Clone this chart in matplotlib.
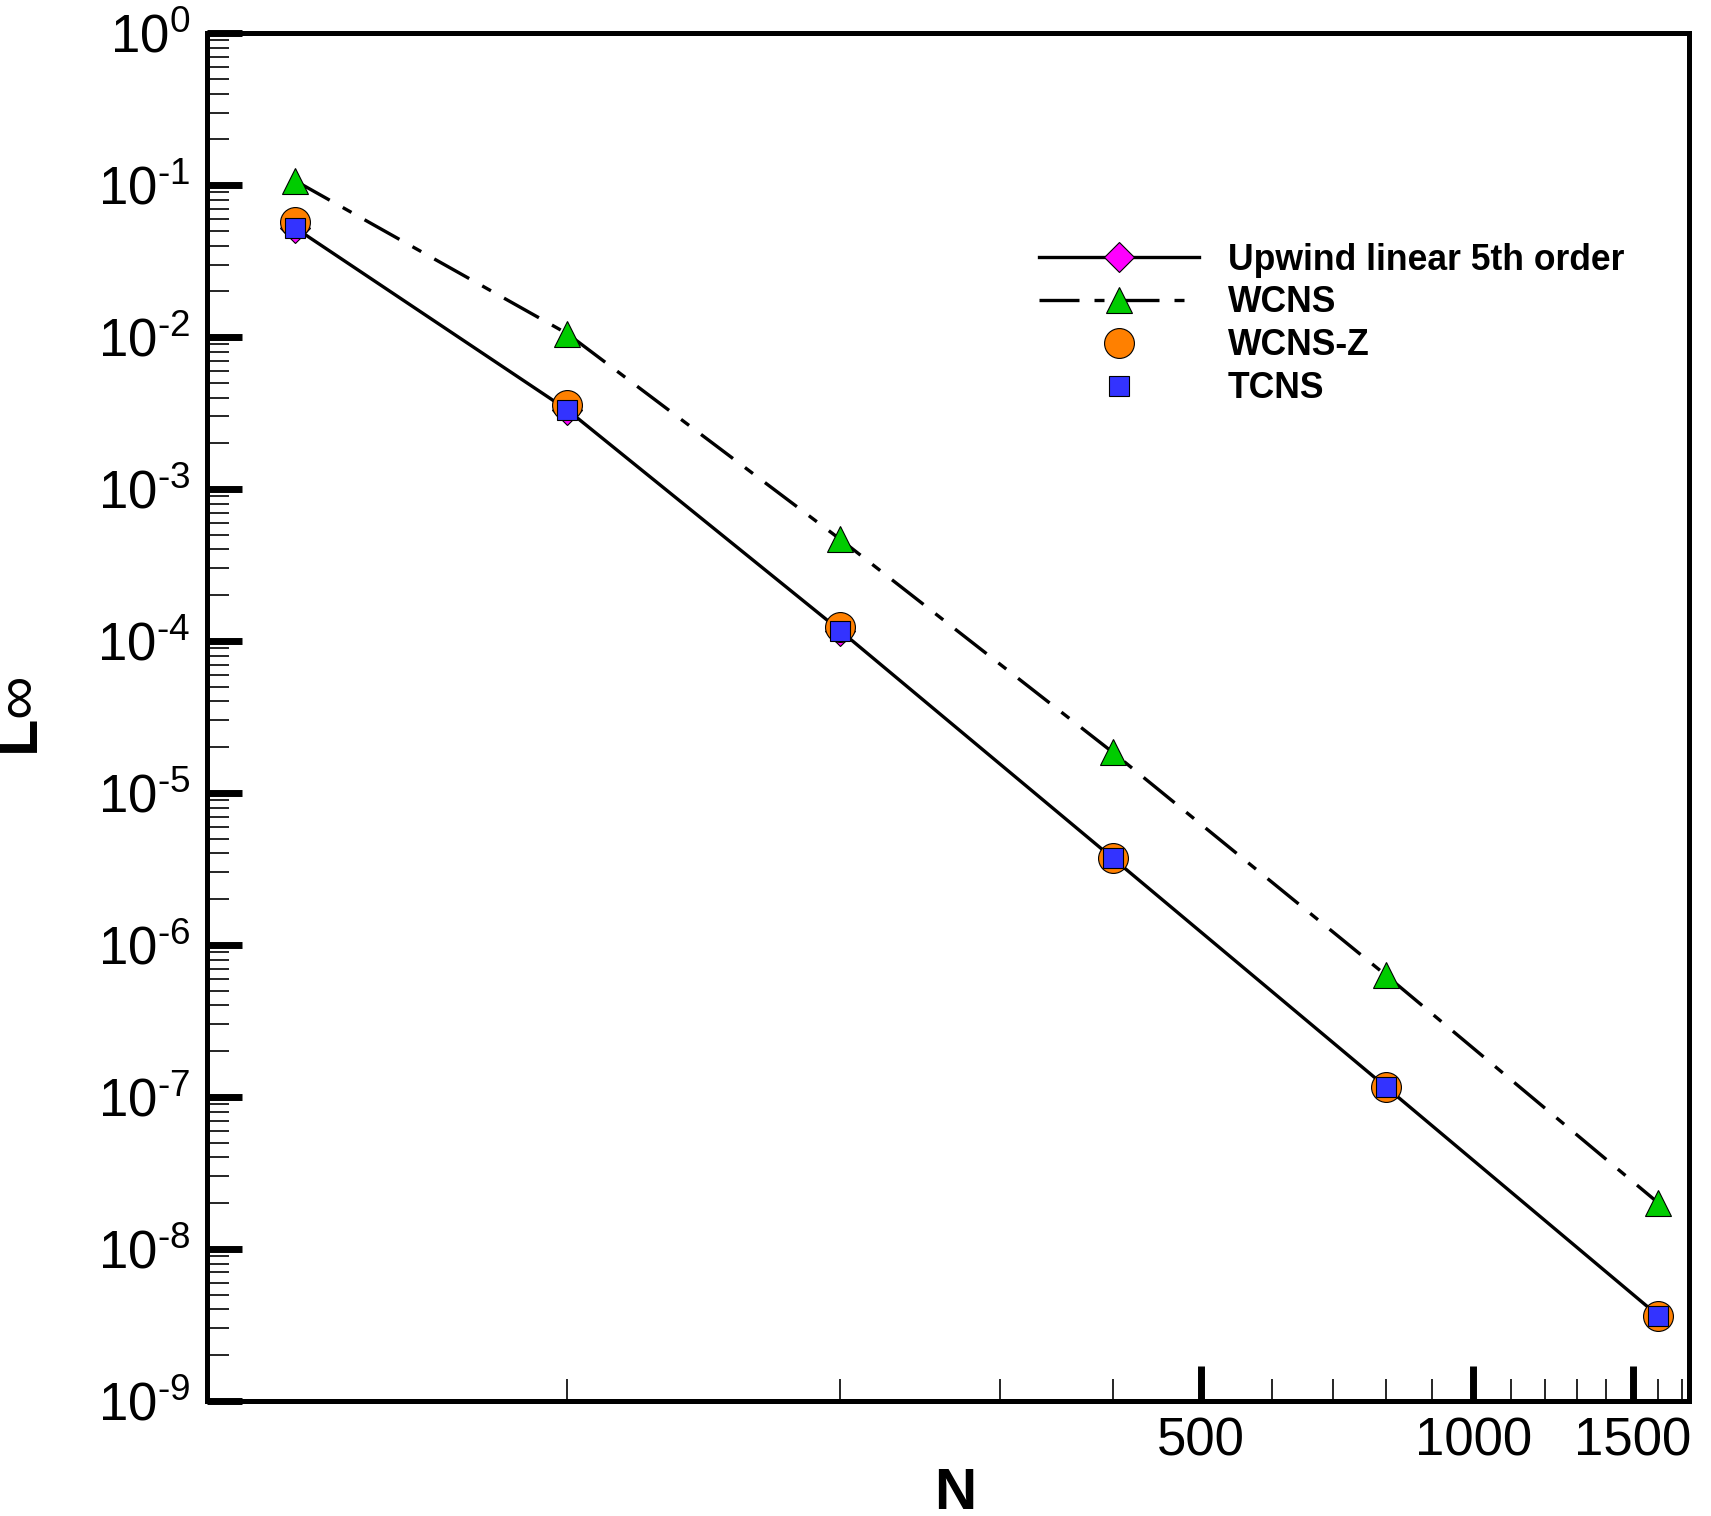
import matplotlib
matplotlib.use("Agg")
import numpy as np
import matplotlib.pyplot as plt
from matplotlib.ticker import NullFormatter, LogLocator, FuncFormatter

plt.rcParams['font.family'] = ['Liberation Sans', 'DejaVu Sans']
plt.rcParams['mathtext.fontset'] = 'custom'
plt.rcParams['mathtext.rm'] = 'Liberation Sans'
plt.rcParams['mathtext.it'] = 'Liberation Sans:italic'
plt.rcParams['mathtext.bf'] = 'Liberation Sans:bold'

# grid sizes and L-infinity errors
N = [50, 100, 200, 400, 800, 1600]
upwind = [0.0524, 3.31e-3, 1.17e-4, 3.72e-6, 1.17e-7, 3.64e-9]
wcns = [0.107, 0.0105, 4.67e-4, 1.85e-5, 6.36e-7, 2.01e-8]
wcns_z = [0.0574, 3.57e-3, 1.24e-4, 3.75e-6, 1.17e-7, 3.64e-9]
tcns = [0.0524, 3.31e-3, 1.17e-4, 3.72e-6, 1.17e-7, 3.64e-9]

labels = ["Upwind linear 5th order", "WCNS", "WCNS-Z", "TCNS"]
xticks = [500, 1000, 1500]
xminor = [100, 200, 300, 400, 600, 700, 800, 900, 1100, 1200, 1300, 1400, 1600, 1700]


def pow10(v, pos):
    # tecplot style: short hyphen in the exponent
    e = int(round(np.log10(v)))
    s = str(e).replace('-', '\u2010')
    return "$10^{%s}$" % s


fig = plt.figure(figsize=(17.11, 15.16), dpi=100)
ax = fig.add_axes([0.121, 0.0759, 0.9871 - 0.121, 0.9782 - 0.0759])

ax.plot(N, upwind, color='black', lw=2.4, marker='D', markersize=15,
        markerfacecolor='#FF00FF', markeredgecolor='black', markeredgewidth=0.8,
        label=labels[0])
ax.plot(N, wcns, color='black', lw=2.4, linestyle=(0, (12, 4.5, 3, 4.5)),
        marker='^', markersize=19, markerfacecolor='#00CC00',
        markeredgecolor='black', markeredgewidth=0.8, label=labels[1])
ax.plot(N, wcns_z, linestyle='none', marker='o', markersize=21.5,
        markerfacecolor='#FF8000', markeredgecolor='black', markeredgewidth=0.8,
        label=labels[2])
ax.plot(N, tcns, linestyle='none', marker='s', markersize=14.5,
        markerfacecolor='#3333FF', markeredgecolor='black', markeredgewidth=0.8,
        label=labels[3])

ax.set_xscale('log')
ax.set_yscale('log')
ax.set_xlim(40, 1730)
ax.set_ylim(1e-9, 1)

ax.set_xticks(xticks, [str(v) for v in xticks])
ax.set_xticks(xminor, minor=True)
ax.xaxis.set_minor_formatter(NullFormatter())
ax.yaxis.set_major_locator(LogLocator(base=10, numticks=20))
ax.yaxis.set_major_formatter(FuncFormatter(pow10))
ax.yaxis.set_minor_locator(LogLocator(base=10, subs=range(2, 10), numticks=20))
ax.yaxis.set_minor_formatter(NullFormatter())

ax.tick_params(which='both', direction='in', top=False, right=False)
ax.tick_params(which='major', length=25, width=5, labelsize=38)
ax.tick_params(axis='x', which='major', pad=11)
ax.tick_params(axis='y', which='major', pad=12)
ax.tick_params(which='minor', length=16, width=1.2)

for sp in ax.spines.values():
    sp.set_linewidth(3.6)

ax.set_xlabel("N", fontsize=42, fontweight='bold')
ax.xaxis.set_label_coords(0.505, -0.048)
ax.xaxis.label.set_verticalalignment('top')
ax.set_ylabel(r"$\mathbf{L}\mathrm{\infty}$", fontsize=44)
ax.yaxis.set_label_coords(-0.105, 0.5)

ax.legend(loc='upper left', bbox_to_anchor=(0.607, 0.84),
          bbox_transform=fig.transFigure, frameon=False, numpoints=1,
          prop={'weight': 'bold', 'size': 25.6}, handlelength=4.5,
          handletextpad=0.82, labelspacing=0.22, borderpad=0, borderaxespad=0)

fig.savefig("out.png", dpi=100)
